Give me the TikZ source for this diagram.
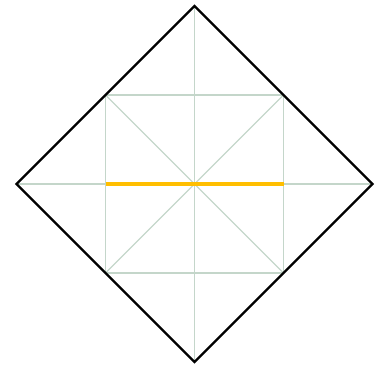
\documentclass[tikz,border=0pt]{standalone}
\definecolor{guidecol}{RGB}{196,214,202}
\definecolor{foldcol}{RGB}{255,190,0}
\begin{document}
\begin{tikzpicture}[x=1pt,y=-1pt,
  guide/.style={draw=guidecol, line width=1.2pt},
  outline/.style={draw=black, line width=2.3pt, line join=miter},
  fold/.style={draw=foldcol, line width=4.2pt}]
\useasboundingbox (0,0) rectangle (378,365);
\coordinate (T) at (194.5,6);
\coordinate (R) at (372.5,184);
\coordinate (B) at (194.5,362);
\coordinate (L) at (16.5,184);
\coordinate (A) at (105.5,95);
\coordinate (Bq) at (283.5,95);
\coordinate (C) at (283.5,273);
\coordinate (D) at (105.5,273);
\coordinate (O) at (194.5,184);
\draw[guide] (T) -- (B);
\draw[guide] (L) -- (R);
\draw[guide] (A) rectangle (C);
\draw[guide] (A) -- (C);
\draw[guide] (Bq) -- (D);
\draw[fold] (105.5,184) -- (283.5,184);
\draw[outline] (T) -- (R) -- (B) -- (L) -- cycle;
\end{tikzpicture}
\end{document}
